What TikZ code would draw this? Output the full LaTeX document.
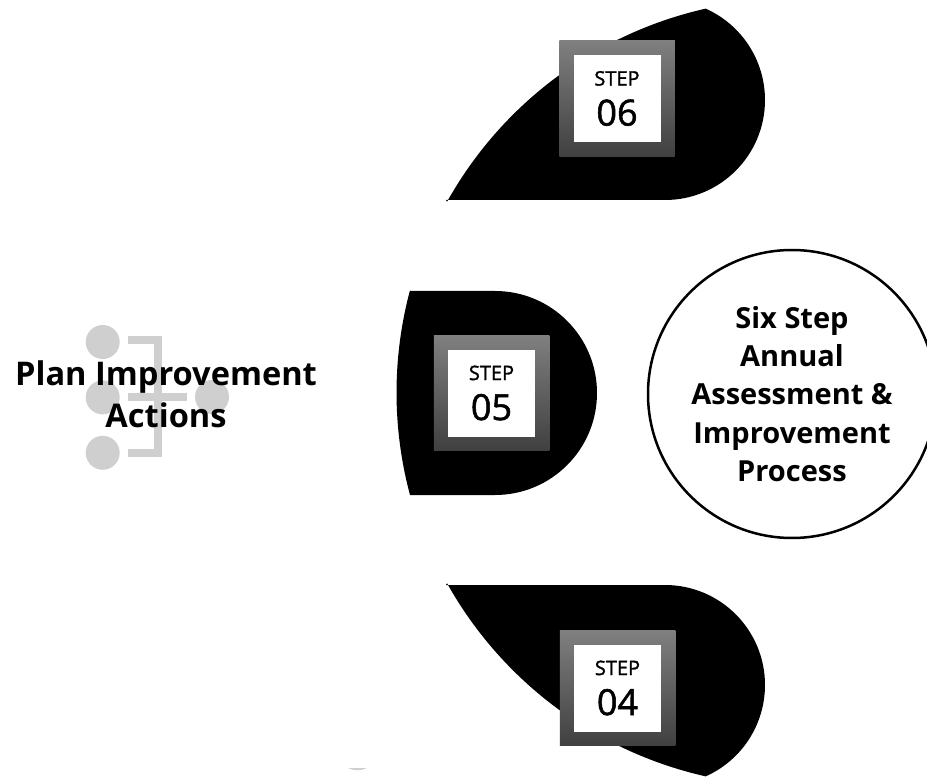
\documentclass[tikz,border=0pt]{standalone}
\usepackage{fontspec}
\setmainfont{Open Sans}
\newfontface\stepfont{Open Sans}[FakeBold=1.5]
\usetikzlibrary{positioning}

\tikzset{
    petal/.style={fill=black,draw=none},
    stepframe/.style={minimum size=115.5pt,inner sep=0pt,top color=black!50,bottom color=black!75},
    stepbox/.style={fill=white,minimum size=87pt,inner sep=0pt,align=center},
    dot/.style={circle,fill=black!19,minimum size=34pt,inner sep=0pt},
    bracket/.style={draw=black!19,line width=8pt},
    title/.style={font=\bfseries\fontsize{29}{38.4}\selectfont,align=center}
}
\newcommand{\steptext}[1]{{\stepfont\fontsize{20}{22}\selectfont STEP\par}\vspace{4pt}{\stepfont\fontsize{36}{36}\selectfont #1\par}\vspace{4pt}}

\begin{document}
\begin{tikzpicture}[x=1pt,y=-1pt]
    \useasboundingbox (0,0) rectangle (927,778);
    \clip (0,0) rectangle (927,778);

    % black shapes
    \path[petal] (446,200) -- (665,200) arc[start angle=90,end angle=-66,radius=100]
        arc[start angle=-102.7,end angle=-150.8,radius=396] -- cycle;
    \path[petal] (410,291) -- (495,291) arc[start angle=-90,end angle=90,radius=102]
        -- (410,495) arc[start angle=165,end angle=195,radius=395.4] -- cycle;
    \path[petal] (446,585) -- (665,585) arc[start angle=-90,end angle=66,radius=100]
        arc[start angle=102.7,end angle=150.8,radius=396] -- cycle;

    % step boxes
    \node[stepframe] (frame6) at (617,98.5) {};
    \node[stepbox,text width=87pt] (box6) at (frame6) {\steptext{06}};
    \node[stepframe] (frame5) at (491.5,393) {};
    \node[stepbox,text width=87pt] (box5) at (frame5) {\steptext{05}};
    \node[stepframe] (frame4) at (617.5,688) {};
    \node[stepbox,text width=87pt] (box4) at (frame4) {\steptext{04}};

    % middle circle
    \node[circle,draw,line width=2.5pt,minimum size=288pt,inner sep=0pt,title] (main) at (792,394)
        {Six Step\\Annual\\Assessment \&\\Improvement\\Process};

    % icon
    \node[dot] (dot1) at (102.7,342) {};
    \node[dot] (dot2) [below=21pt of dot1] {};
    \node[dot] (dot3) [below=21pt of dot2] {};
    \node[dot] (dot4) at (212,397) {};
    \coordinate (top) at (128,340);
    \coordinate (bot) at (128,453);
    \coordinate (mid) at (128,397);
    \coordinate (end) at (187,397);
    \draw[bracket] (top) -| (158,453) -- (bot);
    \draw[bracket] (mid) -- (end);
    \path[fill=black!19] (348,768) .. controls (353,771) and (362,771) .. (367,768) -- cycle;

    \node[title,font=\bfseries\fontsize{32.6}{42}\selectfont] (plan) at (166,394) {Plan Improvement\\Actions};
\end{tikzpicture}
\end{document}
